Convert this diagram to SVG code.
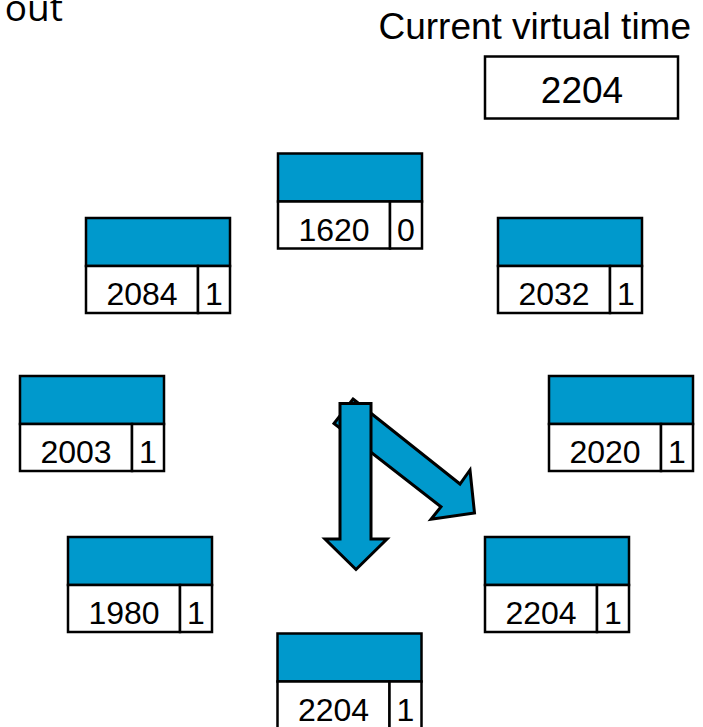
<svg xmlns="http://www.w3.org/2000/svg" width="703" height="727" viewBox="0 0 703 727">
<style>
.bg{fill:#ffffff}
.head{fill:#0099CC;stroke:#000;stroke-width:2.5}
.cell{fill:#ffffff;stroke:#000;stroke-width:2.5}
.t{font-family:"Liberation Sans",Arial,sans-serif;font-size:32px;fill:#000;text-anchor:middle}
.big{font-family:"Liberation Sans",Arial,sans-serif;font-size:37px;fill:#000}
.arrow{fill:#0099CC;stroke:#000;stroke-width:3;stroke-linejoin:miter}
</style>
<defs>
<g id="node">
<rect class="head" x="0" y="0" width="144" height="48"/>
<rect class="cell" x="0" y="48" width="112" height="47"/>
<rect class="cell" x="112" y="48" width="32" height="47"/>
</g>
</defs>
<rect class="bg" x="0" y="0" width="703" height="727"/>
<text x="63" y="21" font-family="'Open Sans','Noto Sans',sans-serif" font-size="37" fill="#000" text-anchor="end">out</text>
<g id="virtual-time">
<text class="big" x="691" y="38.5" text-anchor="end" font-size="36.7">Current virtual time</text>
<rect x="485" y="56.5" width="193" height="62" fill="#fff" stroke="#000" stroke-width="2.5"/>
<text class="big" x="582" y="103.3" text-anchor="middle">2204</text>
</g>
<g id="connectors">
<polygon class="arrow" points="353,399 460,484 470,470 474.5,513 431,519.3 441,506.7 334,423.5"/>
<polygon class="arrow" points="340,403.5 371,403.5 371,539 387,539 356,569.5 325,539 340,539"/>
</g>
<g id="n1620" transform="translate(278,153.5)"><use href="#node"/><text class="t" x="56" y="87">1620</text><text class="t" x="128" y="87">0</text></g>
<g id="n2084" transform="translate(86,218)"><use href="#node"/><text class="t" x="56" y="87">2084</text><text class="t" x="128" y="87">1</text></g>
<g id="n2032" transform="translate(498,218)"><use href="#node"/><text class="t" x="56" y="87">2032</text><text class="t" x="128" y="87">1</text></g>
<g id="n2003" transform="translate(20,376)"><use href="#node"/><text class="t" x="56" y="87">2003</text><text class="t" x="128" y="87">1</text></g>
<g id="n2020" transform="translate(549,376)"><use href="#node"/><text class="t" x="56" y="87">2020</text><text class="t" x="128" y="87">1</text></g>
<g id="n1980" transform="translate(68,537)"><use href="#node"/><text class="t" x="56" y="87">1980</text><text class="t" x="128" y="87">1</text></g>
<g id="n2204r" transform="translate(485,537)"><use href="#node"/><text class="t" x="56" y="87">2204</text><text class="t" x="128" y="87">1</text></g>
<g id="n2204b" transform="translate(277.5,633.5)"><use href="#node"/><text class="t" x="56" y="87">2204</text><text class="t" x="128" y="87">1</text></g>
</svg>
